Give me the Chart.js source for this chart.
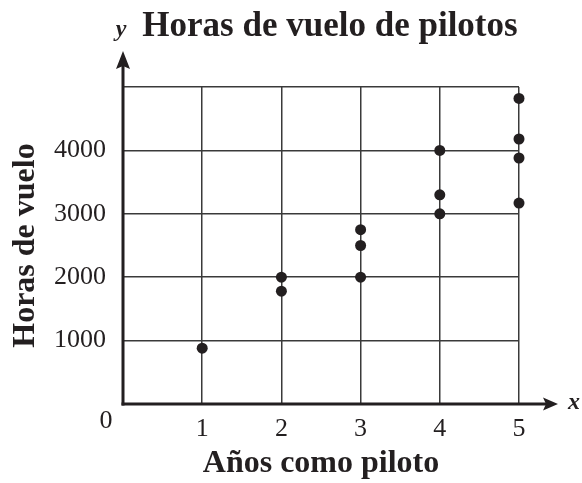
<!DOCTYPE html>
<html>
<head>
<meta charset="utf-8">
<script src="https://cdn.jsdelivr.net/npm/chart.js@4.4.1/dist/chart.umd.min.js"></script>
<style>
  html, body { margin: 0; padding: 0; background: #fff; }
  #wrap { width: 582px; height: 483px; }
</style>
</head>
<body>
<div id="wrap"><canvas id="chart" width="582" height="483"></canvas></div>
<script>
// Horas de vuelo de pilotos (años como piloto vs horas)
const years = [1, 2, 2, 3, 3, 3, 4, 4, 4, 5, 5, 5, 5];
const hours = [880, 2000, 1780, 2750, 2500, 2000, 4000, 3300, 3000, 4820, 4180, 3880, 3170];
const yTickLabels = ['1000', '2000', '3000', '4000'];
const xTickLabels = ['1', '2', '3', '4', '5'];

const INK = '#231f20';
const SERIF = "'Liberation Serif', 'Times New Roman', serif";

// ejes con flechas, etiquetas x / y, el "0" y el título
const axesPlugin = {
  id: 'axesArrows',
  afterDraw(chart) {
    const { ctx, chartArea: a } = chart;
    ctx.save();
    ctx.strokeStyle = INK;
    ctx.fillStyle = INK;
    ctx.lineWidth = 3;
    // eje x
    ctx.beginPath();
    ctx.moveTo(a.left - 1.5, a.bottom);
    ctx.lineTo(a.right + 30, a.bottom);
    ctx.stroke();
    ctx.beginPath();
    ctx.moveTo(a.right + 39, a.bottom);
    ctx.lineTo(a.right + 24, a.bottom - 6.5);
    ctx.lineTo(a.right + 27, a.bottom);
    ctx.lineTo(a.right + 24, a.bottom + 6.5);
    ctx.closePath();
    ctx.fill();
    // eje y
    ctx.beginPath();
    ctx.moveTo(a.left, a.bottom + 1.5);
    ctx.lineTo(a.left, a.top - 22);
    ctx.stroke();
    ctx.beginPath();
    ctx.moveTo(a.left, a.top - 36);
    ctx.lineTo(a.left - 7, a.top - 18);
    ctx.lineTo(a.left, a.top - 21);
    ctx.lineTo(a.left + 7, a.top - 18);
    ctx.closePath();
    ctx.fill();

    ctx.textAlign = 'center';
    ctx.textBaseline = 'middle';
    ctx.font = 'italic bold 24px ' + SERIF;
    ctx.fillText('x', a.right + 55, a.bottom - 1);
    ctx.fillText('y', a.left - 2, 30);
    ctx.font = '26px ' + SERIF;
    ctx.fillText('0', a.left - 17, a.bottom + 17);

    ctx.font = 'bold 35px ' + SERIF;
    ctx.fillText('Horas de vuelo de pilotos', 330, 27);
    ctx.restore();
  }
};

new Chart(document.getElementById('chart'), {
  type: 'scatter',
  data: {
    datasets: [{
      data: years.map((x, i) => ({ x, y: hours[i] })),
      backgroundColor: INK,
      borderColor: INK,
      borderWidth: 0,
      pointRadius: 5.5,
      pointHoverRadius: 5.5,
      clip: false,
    }]
  },
  options: {
    responsive: false,
    animation: false,
    events: [],
    layout: { padding: { top: 87, right: 63, left: 0, bottom: 0 } },
    plugins: { legend: { display: false }, tooltip: { enabled: false }, title: { display: false } },
    scales: {
      x: {
        type: 'linear',
        min: 0, max: 5,
        afterFit(s) { s.height = 79; },
        border: { display: false },
        grid: { color: '#3a3a3a', lineWidth: 1.5, drawTicks: false },
        ticks: {
          stepSize: 1,
          padding: 10,
          color: INK,
          font: { family: SERIF, size: 26 },
          callback: v => xTickLabels.includes(String(v)) ? String(v) : ''
        },
        title: {
          display: true,
          text: 'Años como piloto',
          color: INK,
          font: { family: SERIF, size: 32, weight: 'bold' },
          padding: { top: 0, bottom: 0 }
        }
      },
      y: {
        type: 'linear',
        min: 0, max: 5000,
        afterFit(s) { s.width = 123; },
        border: { display: false },
        grid: { color: '#3a3a3a', lineWidth: 1.5, drawTicks: false },
        ticks: {
          stepSize: 1000,
          padding: 17,
          color: INK,
          font: { family: SERIF, size: 26 },
          callback: v => yTickLabels.includes(String(v)) ? String(v) : ''
        },
        title: {
          display: true,
          text: 'Horas de vuelo',
          color: INK,
          font: { family: SERIF, size: 32, weight: 'bold' },
          padding: { top: 7, bottom: 0 }
        }
      }
    }
  },
  plugins: [axesPlugin]
});
</script>
</body>
</html>
